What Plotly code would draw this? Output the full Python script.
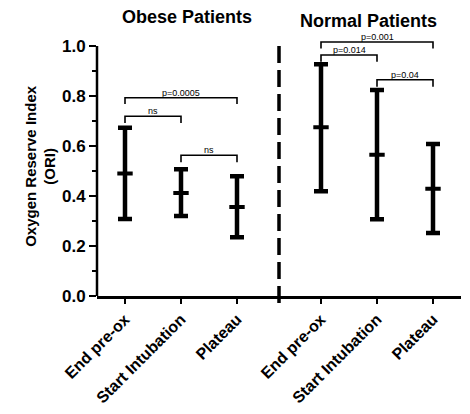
import plotly.graph_objects as go

categories = ["End pre-ox", "Start Intubation", "Plateau"]
groups = ["Obese Patients", "Normal Patients"]
x_pos = [1, 2, 3, 4.5, 5.5, 6.5]
tick_labels = categories + categories

means = [0.49, 0.412, 0.356, 0.675, 0.565, 0.429]
upper = [0.673, 0.507, 0.479, 0.927, 0.824, 0.608]
lower = [0.308, 0.320, 0.235, 0.419, 0.307, 0.252]

# brackets: (start index, end index, bar height, leg bottom, label)
brackets = [
    (0, 2, 0.793, 0.768, "p=0.0005"),
    (0, 1, 0.719, 0.692, "ns"),
    (1, 2, 0.563, 0.535, "ns"),
    (3, 5, 1.016, 0.990, "p=0.001"),
    (3, 4, 0.964, 0.937, "p=0.014"),
    (4, 5, 0.865, 0.837, "p=0.04"),
]
divider_x = 3.75
YMAX = 1.04

FONT = "Liberation Sans, Arial, sans-serif"

fig = go.Figure()

fig.add_trace(go.Scatter(
    x=x_pos, y=means, mode="markers",
    marker=dict(symbol="line-ew", size=11, color="black", line=dict(width=4, color="black")),
    error_y=dict(type="data", symmetric=False,
                 array=[u - m for u, m in zip(upper, means)],
                 arrayminus=[m - l for m, l in zip(means, lower)],
                 thickness=4.5, width=7, color="black"),
    showlegend=False, hoverinfo="skip",
))

annotations = []
for i0, i1, top, leg, label in brackets:
    xa, xb = x_pos[i0], x_pos[i1]
    fig.add_trace(go.Scatter(
        x=[xa, xa, xb, xb], y=[leg, top, top, leg], mode="lines",
        line=dict(color="black", width=1.6), showlegend=False, hoverinfo="skip",
    ))
    annotations.append(dict(x=(xa + xb) / 2, y=top, xref="x", yref="y", text=label,
                            showarrow=False, yanchor="bottom", yshift=-2,
                            font=dict(family=FONT, size=9, color="black")))

fig.add_shape(type="line", xref="x", yref="paper", x0=divider_x, x1=divider_x,
              y0=1.0 / YMAX, y1=-0.045 / YMAX,
              line=dict(color="black", width=3.5, dash="17px,7px"))

annotations.append(dict(x=2.1, y=1.116 / YMAX, xref="x", yref="paper", text="<b>" + groups[0] + "</b>",
                        showarrow=False, xanchor="center", yanchor="middle",
                        font=dict(family=FONT, size=18, color="black")))
annotations.append(dict(x=5.34, y=1.10 / YMAX, xref="x", yref="paper", text="<b>" + groups[1] + "</b>",
                        showarrow=False, xanchor="center", yanchor="middle",
                        font=dict(family=FONT, size=18, color="black")))
annotations.append(dict(x=-0.157, y=0.52 / YMAX, xref="paper", yref="paper",
                        text="<b>Oxygen Reserve Index<br>(ORI)</b>", textangle=-90,
                        xanchor="center", yanchor="middle",
                        showarrow=False, font=dict(family=FONT, size=15, color="black")))

fig.update_layout(
    width=470, height=414,
    margin=dict(l=97, r=9, t=36, b=118),
    paper_bgcolor="white", plot_bgcolor="white",
    annotations=annotations,
    font=dict(family=FONT, color="black"),
)
fig.update_xaxes(
    range=[0.5, 7.0], tickvals=x_pos, ticktext=["<b>" + t + "</b>" for t in tick_labels],
    tickangle=-45, tickfont=dict(family=FONT, size=16, color="black"),
    showline=True, linecolor="black", linewidth=2.5, ticks="outside", ticklen=5,
    tickwidth=2, tickcolor="black", showgrid=False, zeroline=False,
)
fig.update_yaxes(
    range=[0, YMAX], tickvals=[0, 0.2, 0.4, 0.6, 0.8, 1.0],
    ticktext=["<b>0.0</b>", "<b>0.2</b>", "<b>0.4</b>", "<b>0.6</b>", "<b>0.8</b>", "<b>1.0</b>"],
    tickfont=dict(family=FONT, size=17, color="black"),
    showline=False, ticks="outside", ticklen=7, tickwidth=2, tickcolor="black",
    minor=dict(tickvals=[0.1, 0.3, 0.5, 0.7, 0.9], ticks="outside", ticklen=4, tickwidth=2, tickcolor="black"),
    showgrid=False, zeroline=False,
)
fig.add_shape(type="line", xref="paper", yref="y", x0=0, x1=0, y0=0, y1=1.0,
              line=dict(color="black", width=2.5))

fig.write_html("out.html", config={"displayModeBar": False},
               post_script="document.body.style.margin='0';")
